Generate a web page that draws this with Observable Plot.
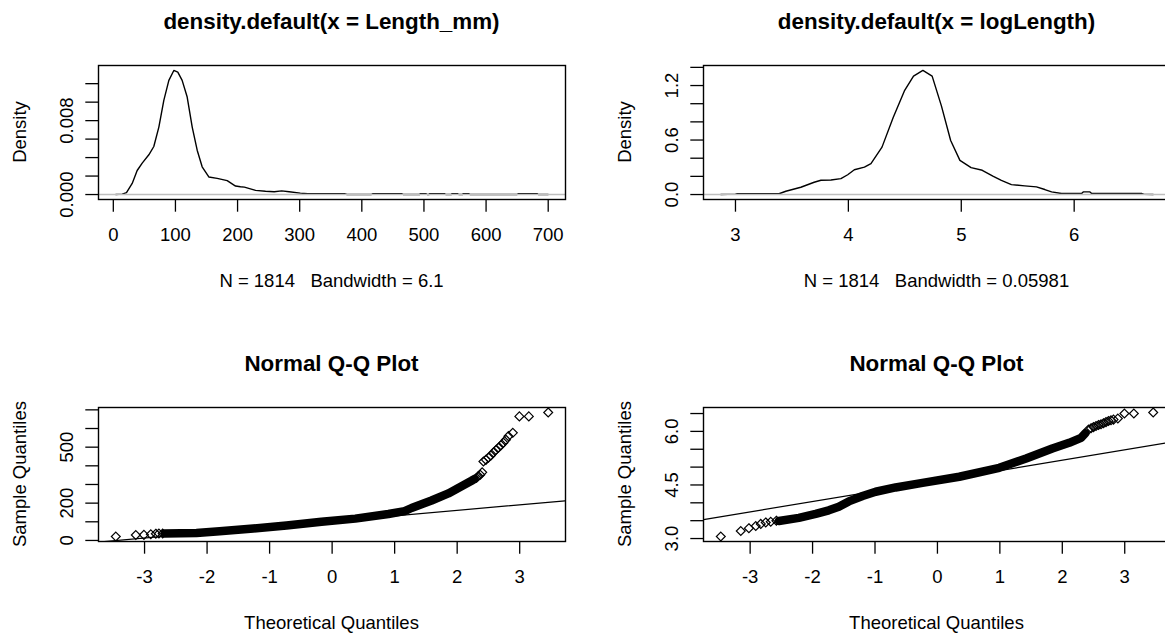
<!DOCTYPE html>
<html>
<head>
<meta charset="utf-8">
<script src="https://cdn.jsdelivr.net/npm/d3@7"></script>
<script src="https://cdn.jsdelivr.net/npm/@observablehq/plot@0.6"></script>
<style>
html, body { margin: 0; padding: 0; background: #fff; overflow: hidden; }
#fig { position: relative; width: 1165px; height: 637px; overflow: hidden; background: #fff;
       font-family: "Liberation Sans", Arial, sans-serif; color: #000; }
.t { position: absolute; white-space: pre; line-height: 1; transform: translate(-50%, -50%); }
.main { font-weight: bold; font-size: 22.4px; }
.lab { font-size: 18.5px; }
.rot { transform: translate(-50%, -50%) rotate(-90deg); }
</style>
</head>
<body>
<div id="fig"></div>
<script>
// ---------------- DATA ----------------
// Panel 1: density.default(x = Length_mm)
const lenDensX = [4, 14.3, 21.2, 30.4, 38.4, 46.5, 57.2, 65.2, 73.3, 81.3, 89.4, 97.4, 103.8, 110.8, 118.9, 127, 135, 143, 153.7, 167.2, 183.3, 196.7, 204.7, 211, 229, 245, 259, 271, 283, 301, 313, 372, 376, 415, 418, 464, 467, 493, 494, 503, 505, 508, 509, 533, 535, 544, 545, 554, 556, 562, 563, 572, 574, 650, 652, 682, 684, 700];
const lenDensY = [0, 0.00005, 0.0002, 0.0012, 0.0026, 0.0034, 0.0043, 0.0052, 0.0073, 0.0102, 0.01236, 0.01343, 0.01325, 0.01236, 0.01055, 0.0073, 0.0048, 0.003, 0.0019, 0.00175, 0.0015, 0.00092, 0.00084, 0.0008, 0.00045, 0.00035, 0.0003, 0.0004, 0.0003, 0.00015, 0.00009, 0.00009, 0, 0, 0.00009, 0.00009, 0, 0, 0.00009, 0.00009, 0, 0, 0.00009, 0.00009, 0, 0, 0.00009, 0.00009, 0, 0, 0.00009, 0.00009, 0, 0, 0.00009, 0.00009, 0, 0];
const lenDensXTicks = [0, 100, 200, 300, 400, 500, 600, 700];
const lenDensXLabels = ["0", "100", "200", "300", "400", "500", "600", "700"];
const lenDensYTicks = [0, 0.002, 0.004, 0.006, 0.008, 0.010, 0.012];
const lenDensYLabels = ["0.000", "", "", "", "0.008", "", ""];

// Panel 2: density.default(x = logLength)
const logDensX = [2.87, 3.0, 3.017, 3.386, 3.446, 3.579, 3.697, 3.757, 3.846, 3.934, 3.994, 4.053, 4.142, 4.2, 4.298, 4.397, 4.496, 4.577, 4.66, 4.742, 4.824, 4.906, 4.988, 5.087, 5.186, 5.284, 5.355, 5.444, 5.562, 5.666, 5.74, 5.8, 5.888, 6.066, 6.08, 6.14, 6.155, 6.6, 6.62, 6.70];
const logDensY = [0, 0.004, 0.009, 0.009, 0.036, 0.08, 0.135, 0.157, 0.16, 0.175, 0.218, 0.273, 0.302, 0.34, 0.522, 0.849, 1.14, 1.304, 1.366, 1.304, 0.976, 0.595, 0.376, 0.297, 0.267, 0.2, 0.156, 0.109, 0.095, 0.084, 0.055, 0.029, 0.011, 0.011, 0.029, 0.029, 0.011, 0.011, 0.002, 0];
const logDensXTicks = [3, 4, 5, 6];
const logDensXLabels = ["3", "4", "5", "6"];
const logDensYTicks = [0, 0.2, 0.4, 0.6, 0.8, 1.0, 1.2, 1.4];
const logDensYLabels = ["0.0", "", "", "0.6", "", "", "1.2", ""];

// Panel 3: Normal Q-Q plot of Length_mm
const qqLenBandX = [-2.68, -2.17, -1.80, -1.26, -0.73, -0.17, 0.37, 0.90, 1.16, 1.27, 1.59, 1.86, 2.07, 2.23, 2.28];
const qqLenBandY = [37, 40, 49, 64, 80, 100, 117, 142, 157, 174, 214, 252, 290, 320, 330];
const qqLenPtsX = [-3.46, -3.14, -3.01, -2.90, -2.82, -2.77, -2.71, 2.31, 2.34, 2.37, 2.40, 2.42, 2.46, 2.50, 2.54, 2.58, 2.62, 2.66, 2.70, 2.74, 2.78, 2.82, 2.89, 2.995, 3.146, 3.456];
const qqLenPtsY = [21, 29, 30, 33, 36, 37, 37, 336, 345, 352, 365, 423, 432, 444, 455, 471, 485, 497, 510, 524, 540, 559, 577, 665, 665, 686];
const qqLenQuartiles = [82, 122];
const qqLenYTicks = [0, 100, 200, 300, 400, 500, 600, 700];
const qqLenYLabels = ["0", "", "200", "", "", "500", "", ""];

// Panel 4: Normal Q-Q plot of logLength
const qqLogBandX = [-2.54, -2.22, -1.95, -1.74, -1.58, -1.42, -1.20, -0.99, -0.67, -0.24, 0.35, 0.99, 1.42, 1.84, 2.11, 2.30, 2.37];
const qqLogBandY = [3.49, 3.58, 3.69, 3.79, 3.89, 4.04, 4.19, 4.31, 4.43, 4.56, 4.73, 4.98, 5.24, 5.52, 5.68, 5.82, 5.95];
const qqLogPtsX = [-3.47, -3.15, -3.02, -2.91, -2.83, -2.75, -2.67, -2.58, 2.42, 2.46, 2.50, 2.54, 2.58, 2.62, 2.66, 2.70, 2.74, 2.78, 2.82, 2.89, 2.995, 3.146, 3.456];
const qqLogPtsY = [3.056, 3.21, 3.29, 3.35, 3.41, 3.45, 3.47, 3.50, 6.05, 6.09, 6.12, 6.15, 6.18, 6.20, 6.23, 6.26, 6.29, 6.31, 6.33, 6.36, 6.50, 6.50, 6.53];
const qqLogQuartiles = [4.42, 4.81];
const qqLogYTicks = [3.0, 3.5, 4.0, 4.5, 5.0, 5.5, 6.0, 6.5];
const qqLogYLabels = ["3.0", "", "", "4.5", "", "", "6.0", ""];

// shared
const qqXTicks = [-3, -2, -1, 0, 1, 2, 3];
const qqXLabels = ["-3", "-2", "-1", "0", "1", "2", "3"];
const quartileZ = [-0.6745, 0.6745];

const titles = ["density.default(x = Length_mm)", "density.default(x = logLength)", "Normal Q-Q Plot", "Normal Q-Q Plot"];
const xLabs = ["N = 1814   Bandwidth = 6.1", "N = 1814   Bandwidth = 0.05981", "Theoretical Quantiles", "Theoretical Quantiles"];
const yLabs = ["Density", "Density", "Sample Quantiles", "Sample Quantiles"];

// ---------------- LAYOUT ----------------
const fig = document.getElementById("fig");
const FONT = "'Liberation Sans', Arial, sans-serif";
const pad4 = ([a, b]) => [a - 0.04 * (b - a), b + 0.04 * (b - a)];
const idx = (arr) => d3.range(arr.length);

// box geometry (plot region) of each panel in page px
const boxes = [
  {left: 98, top: 65, w: 467, h: 134},
  {left: 703, top: 65, w: 467, h: 134},
  {left: 98, top: 407, w: 467, h: 134},
  {left: 703, top: 407, w: 467, h: 134}
];

function addText(str, x, y, cls) {
  const d = document.createElement("div");
  d.className = "t " + cls;
  d.textContent = str;
  d.style.left = x + "px";
  d.style.top = y + "px";
  fig.appendChild(d);
}

function makePanel(k, xDomain, yDomain, xTicks, xLabels, yTicks, yLabels, marks) {
  const b = boxes[k];
  const svgLeft = b.left - 98 < 300 ? 0 : 585;
  const svgTop = b.top - 65;
  const width = 600, height = 318;
  const mL = b.left - svgLeft, mT = b.top - svgTop;
  const svg = Plot.plot({
    width, height,
    marginLeft: mL, marginTop: mT,
    marginRight: width - mL - b.w, marginBottom: height - mT - b.h,
    x: {domain: xDomain},
    y: {domain: yDomain},
    style: {fontFamily: FONT, fontSize: "18.5px", color: "#000", background: "transparent", overflow: "visible"},
    marks: [
      ...marks,
      Plot.frame({stroke: "#000", strokeWidth: 1.4}),
      Plot.axisX({ticks: xTicks, tickFormat: (d) => xLabels[xTicks.indexOf(d)], tickSize: 12.7, tickPadding: 15.5, strokeWidth: 1.3, label: null}),
      Plot.axisY({ticks: yTicks, tickFormat: (d) => yLabels[yTicks.indexOf(d)], tickRotate: -90, tickSize: 12.7, tickPadding: 12.5, strokeWidth: 1.3, label: null})
    ]
  });
  svg.style.position = "absolute";
  svg.style.left = svgLeft + "px";
  svg.style.top = svgTop + "px";
  svg.style.maxWidth = "none";
  fig.appendChild(svg);
  const cx = b.left + b.w / 2;
  addText(titles[k], cx, b.top - 43, "main");
  addText(xLabs[k], cx, b.top + b.h + 82, "lab");
  addText(yLabs[k], b.left - 78, b.top + b.h / 2, "lab rot");
}

function densityMarks(X, Y) {
  return [
    Plot.line(idx(X), {x: (i) => X[i], y: (i) => Y[i], stroke: "#000", strokeWidth: 1.4}),
    Plot.ruleY([0], {stroke: "#bebebe", strokeWidth: 1.6})
  ];
}

function qqMarks(BX, BY, PX, PY, quart, xDomain) {
  const slope = (quart[1] - quart[0]) / (quartileZ[1] - quartileZ[0]);
  const lineX = xDomain;
  return [
    Plot.line(idx(BX), {x: (i) => BX[i], y: (i) => BY[i], stroke: "#000", strokeWidth: 8.5, strokeLinejoin: "round"}),
    Plot.dot(idx(PX), {x: (i) => PX[i], y: (i) => PY[i], symbol: "diamond2", r: 4, stroke: "#000", strokeWidth: 1.2, fill: "none"}),
    Plot.line(lineX, {x: (d) => d, y: (d) => quart[0] + (d - quartileZ[0]) * slope, stroke: "#000", strokeWidth: 1.2, clip: true})
  ];
}

// Panel 1
{
  const xd = pad4(d3.extent(lenDensX)), yd = pad4([0, d3.max(lenDensY)]);
  makePanel(0, xd, yd, lenDensXTicks, lenDensXLabels, lenDensYTicks, lenDensYLabels, densityMarks(lenDensX, lenDensY));
}
// Panel 2
{
  const xd = pad4(d3.extent(logDensX)), yd = pad4([0, d3.max(logDensY)]);
  makePanel(1, xd, yd, logDensXTicks, logDensXLabels, logDensYTicks, logDensYLabels, densityMarks(logDensX, logDensY));
}
// Panel 3
{
  const xd = pad4(d3.extent(qqLenPtsX)), yd = pad4(d3.extent(qqLenPtsY));
  makePanel(2, xd, yd, qqXTicks, qqXLabels, qqLenYTicks, qqLenYLabels, qqMarks(qqLenBandX, qqLenBandY, qqLenPtsX, qqLenPtsY, qqLenQuartiles, xd));
}
// Panel 4
{
  const xd = pad4(d3.extent(qqLogPtsX)), yd = pad4(d3.extent(qqLogPtsY));
  makePanel(3, xd, yd, qqXTicks, qqXLabels, qqLogYTicks, qqLogYLabels, qqMarks(qqLogBandX, qqLogBandY, qqLogPtsX, qqLogPtsY, qqLogQuartiles, xd));
}
</script>
</body>
</html>
